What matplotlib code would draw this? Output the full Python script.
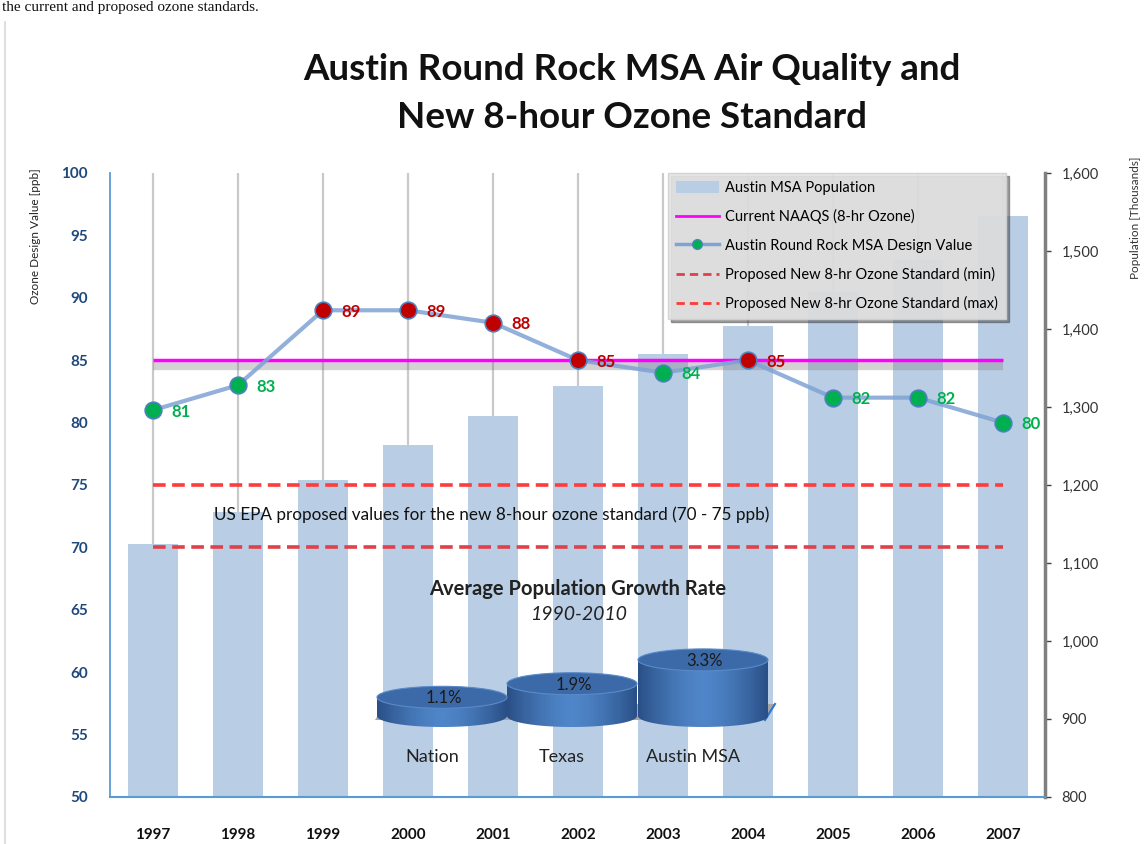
import matplotlib
matplotlib.use("Agg")
import matplotlib.pyplot as plt
import numpy as np
from matplotlib.patches import Ellipse, Polygon, Patch
from matplotlib.lines import Line2D
from matplotlib.ticker import FuncFormatter
from matplotlib.colors import LinearSegmentedColormap

plt.rcParams['font.family'] = ['Lato', 'DejaVu Sans']

# data
years = ['1997', '1998', '1999', '2000', '2001', '2002', '2003', '2004', '2005', '2006', '2007']
population = [1124, 1165, 1206, 1251, 1288, 1327, 1368, 1404, 1447, 1488, 1545]
design_value = [81, 83, 89, 89, 88, 85, 84, 85, 82, 82, 80]
naaqs = 85
proposed_min = 70
proposed_max = 75

growth_regions = ['Nation', 'Texas', 'Austin MSA']
growth_rates = [1.1, 1.9, 3.3]

green = '#00B050'
red = '#C00000'

fig = plt.figure(figsize=(11.47, 8.44), dpi=100)

# main axes: population bars underneath, ozone on top
ax_pop = fig.add_axes([110 / 1147, 1 - 797 / 844, 935 / 1147, 624 / 844])
ax_oz = ax_pop.twinx()

x = np.arange(len(years))
for xi in x:
    ax_pop.axvline(xi, color='#C9C9C9', lw=1.6, zorder=0)
ax_pop.bar(x, np.array(population) - 800, bottom=800, width=0.59,
           color='#B9CDE5', zorder=2)
ax_pop.set_ylim(800, 1600)
ax_pop.set_xlim(-0.506, 10.494)
ax_pop.yaxis.tick_right()
ax_pop.yaxis.set_label_position('right')
ax_pop.set_yticks(np.arange(800, 1601, 100))
ax_pop.yaxis.set_major_formatter(FuncFormatter(lambda v, p: f"{int(v):,}"))
ax_pop.tick_params(axis='y', colors='#404040', labelsize=10.5, length=4,
                   width=1, pad=8, labelcolor='#333333')
ax_pop.set_ylabel('Population [Thousands]', fontsize=8.5, color='#333333')
ax_pop.yaxis.set_label_coords(1.091, 0.928)
ax_pop.set_xticks(x)
ax_pop.set_xticklabels(years, fontsize=11, fontweight='bold', color='#111111')
ax_pop.tick_params(axis='x', length=0, pad=22)
ax_pop.spines['top'].set_visible(False)
ax_pop.spines['left'].set_color('#5B9BD5')
ax_pop.spines['left'].set_linewidth(1.3)
ax_pop.spines['bottom'].set_color('#5B9BD5')
ax_pop.spines['bottom'].set_linewidth(1.5)
ax_pop.spines['right'].set_color('#7F7F7F')
ax_pop.spines['right'].set_linewidth(2.5)

# ozone axis on the left
ax_oz.yaxis.tick_left()
ax_oz.yaxis.set_label_position('left')
ax_oz.set_ylim(50, 100)
ax_oz.set_yticks(np.arange(50, 101, 5))
ax_oz.tick_params(axis='y', length=0, pad=16, labelsize=11, labelcolor='#1F497D')
for lab in ax_oz.get_yticklabels():
    lab.set_fontweight('bold')
ax_oz.set_ylabel('Ozone Design Value [ppb]', fontsize=8.5, color='#222222')
ax_oz.yaxis.set_label_coords(-0.074, 0.899)
for s in ax_oz.spines.values():
    s.set_visible(False)

# standards
ax_oz.plot([x[0], x[-1]], [naaqs - 0.5, naaqs - 0.5], color='#808080', lw=6, alpha=0.35,
           solid_capstyle='butt', zorder=3)
ax_oz.plot([x[0], x[-1]], [naaqs, naaqs], color='#FF00FF', lw=2.5, zorder=4,
           solid_capstyle='butt')
ax_oz.plot([x[0], x[-1]], [proposed_max, proposed_max], color='#FF3B3B', lw=2.6,
           dashes=(3.5, 1.8), zorder=4)
ax_oz.plot([x[0], x[-1]], [proposed_min, proposed_min], color='#E0404A', lw=2.6,
           dashes=(3.5, 1.8), zorder=4)

# design values
ax_oz.plot(x, design_value, color='#7FA3D4', lw=3, alpha=0.85, zorder=5)
for xi, v in zip(x, design_value):
    c = red if v >= naaqs else green
    ax_oz.plot(xi, v, 'o', ms=12, mfc=c, mec='#4F81BD', mew=1.2, zorder=6)
    ax_oz.annotate(str(v), (xi, v), xytext=(13, -1), textcoords='offset points',
                   va='center', ha='left', fontsize=12, fontweight='bold', color=c, zorder=7)

ax_oz.text(3.99, 72.6, 'US EPA proposed values for the new 8-hour ozone standard (70 - 75 ppb)',
           ha='center', va='center', fontsize=12.3, color='#111111', zorder=7)

# legend
handles = [
    Patch(facecolor='#B9CDE5', edgecolor='none'),
    Line2D([], [], color='#FF00FF', lw=2),
    Line2D([], [], color='#7FA3D4', lw=2.5, marker='o', ms=7, mfc=green, mec='#4F81BD'),
    Line2D([], [], color='#E0404A', lw=2, dashes=(3, 1.8)),
    Line2D([], [], color='#FF3B3B', lw=2, dashes=(3, 1.8)),
]
labels = ['Austin MSA Population', 'Current NAAQS (8-hr Ozone)',
          'Austin Round Rock MSA Design Value',
          'Proposed New 8-hr Ozone Standard (min)',
          'Proposed New 8-hr Ozone Standard (max)']
leg = ax_oz.legend(handles, labels, loc='upper left', bbox_to_anchor=(0.597, 1.0),
                   fontsize=10.5, labelspacing=0.98, handlelength=2.9, handleheight=0.8,
                   handletextpad=0.45, frameon=True, fancybox=False, shadow=True,
                   borderpad=0.55, borderaxespad=0)
leg.get_frame().set_facecolor('#E4E4E4')
leg.get_frame().set_edgecolor('#D0D0D0')
leg.get_frame().set_alpha(0.9)
leg.set_zorder(10)

# overlay in pixel coordinates for title, inset and page frame
ov = fig.add_axes([0, 0, 1, 1])
ov.set_xlim(0, 1147)
ov.set_ylim(844, 0)
ov.axis('off')
ov.patch.set_visible(False)

ov.plot([5, 5], [22, 844], color='#D8D8D8', lw=1.2)
ov.text(2, 1, 'the current and proposed ozone standards.', family='Liberation Serif',
        fontsize=11, ha='left', va='top', color='#111111')
ov.text(632, 70, 'Austin Round Rock MSA Air Quality and', ha='center', va='center',
        fontsize=26.5, fontweight='bold', color='#111111')
ov.text(632, 118, 'New 8-hour Ozone Standard', ha='center', va='center',
        fontsize=26.5, fontweight='bold', color='#111111')

# inset: average population growth rate as 3D cylinders
ov.text(578, 589, 'Average Population Growth Rate', ha='center', va='center',
        fontsize=14.5, fontweight='bold', color='#222222')
ov.text(578, 615, '1990-2010', ha='center', va='center', fontsize=14,
        style='italic', color='#222222')

floor = Polygon([[375, 720], [765, 720], [775, 704], [385, 704]], closed=True,
                facecolor='#A6A6A6', edgecolor='none', zorder=3)
ov.add_patch(floor)
ov.plot([765, 775], [720, 704], color='#2E75D0', lw=1.5, zorder=3)

centers = [442, 572, 703]
cw = 130
eh = 22
base = 716
scale = 17
grad = np.abs(np.linspace(-1, 1, 200)) ** 1.5
grad = np.tile(grad, (10, 1))
cyl_cmap = LinearSegmentedColormap.from_list('cyl', ['#4F86C9', '#2A4F86'])
for cx, rate, name in zip(centers, growth_rates, growth_regions):
    top = base - rate * scale
    t = np.linspace(np.pi, 0, 60)
    arc = np.column_stack([cx + cw / 2 * np.cos(t), base + eh / 2 * np.sin(t)])
    pts = np.vstack([[[cx - cw / 2, top]], arc, [[cx + cw / 2, top]]])
    body = Polygon(pts, closed=True, facecolor='none', edgecolor='none', zorder=4)
    ov.add_patch(body)
    im = ov.imshow(grad, cmap=cyl_cmap, extent=[cx - cw / 2, cx + cw / 2, base + eh / 2, top],
                   aspect='auto', zorder=4)
    im.set_clip_path(body)
    ov.add_patch(Ellipse((cx, top), cw, eh, facecolor='#3C6AA8',
                         edgecolor='#5A8AC8', lw=0.8, zorder=5))
    ov.text(cx + 2, top + 1, f'{rate}%', ha='center', va='center', fontsize=12,
            color='#1A1A1A', zorder=6)
    ov.text(cx - 10, 757, name, ha='center', va='center', fontsize=13, color='#222222')

ov.set_xlim(0, 1147)
ov.set_ylim(844, 0)

fig.savefig('out.png', dpi=100, facecolor='white')
